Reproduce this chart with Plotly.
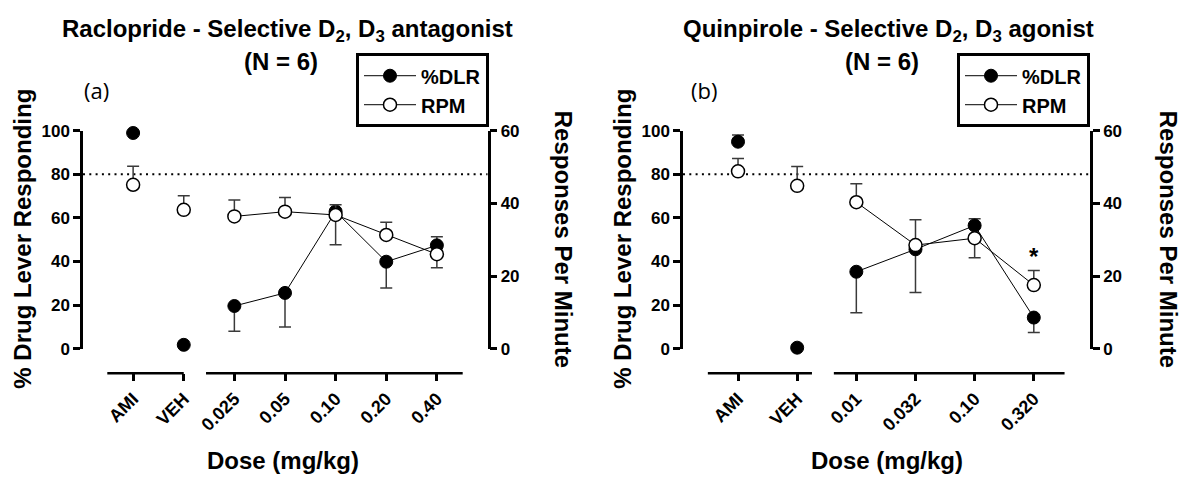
import plotly.graph_objects as go

# ---------------- Panel (a): Raclopride ----------------
a_labels = ["AMI", "VEH", "0.025", "0.05", "0.10", "0.20", "0.40"]
a_ctrl_dlr = [98.9, 1.8]
a_ctrl_rpm = [45.1, 38.2]
a_ctrl_rpm_up = [5.1, 3.9]
a_dose_dlr = [19.6, 25.6, 62.9, 39.9, 47.4]
a_dose_dlr_up = [0, 0, 0, 0, 3.9]
a_dose_dlr_dn = [11.6, 15.6, 15.2, 12.0, 0]
a_dose_rpm = [36.4, 37.7, 36.8, 31.3, 26.0]
a_dose_rpm_up = [4.5, 3.9, 2.8, 3.5, 0]
a_dose_rpm_dn = [0, 0, 0, 0, 3.7]

# ---------------- Panel (b): Quinpirole ----------------
b_labels = ["AMI", "VEH", "0.01", "0.032", "0.10", "0.320"]
b_ctrl_dlr = [94.9, 0.5]
b_ctrl_dlr_up = [3.1, 0]
b_ctrl_rpm = [48.8, 44.8]
b_ctrl_rpm_up = [3.5, 5.3]
b_dose_dlr = [35.3, 45.6, 56.5, 14.3]
b_dose_dlr_up = [0, 0, 3.1, 0]
b_dose_dlr_dn = [18.8, 19.8, 0, 6.9]
b_dose_rpm = [40.3, 28.5, 30.4, 17.5]
b_dose_rpm_up = [5.1, 7.0, 0, 4.0]
b_dose_rpm_dn = [0, 0, 5.4, 0]

left_ticks = [0, 20, 40, 60, 80, 100]
right_ticks = [0, 20, 40, 60]
criterion = 80

W, H = 1183, 489
FONT = "Arial, Liberation Sans, sans-serif"
ERRC = "#3a3a3a"


def err(up, dn=None):
    return dict(type="data", symmetric=False, array=up,
                arrayminus=dn if dn is not None else [0] * len(up),
                color=ERRC, thickness=1.5, width=6)


filled = dict(symbol="circle", size=13, color="black", line=dict(color="black", width=1))
opened = dict(symbol="circle", size=13, color="white", line=dict(color="black", width=1.5))

fig = go.Figure()


def add_panel(labels, ctrl_dlr, ctrl_dlr_up, ctrl_rpm, ctrl_rpm_up,
              dose_dlr, dose_dlr_up, dose_dlr_dn,
              dose_rpm, dose_rpm_up, dose_rpm_dn, xa, ya, ya2, leg):
    pos = list(range(len(labels)))
    cx, dx = pos[:2], pos[2:]
    fig.add_trace(go.Scatter(x=cx, y=ctrl_dlr, mode="markers", marker=filled,
                             error_y=err(ctrl_dlr_up), showlegend=False,
                             xaxis=xa, yaxis=ya, cliponaxis=False))
    fig.add_trace(go.Scatter(x=dx, y=dose_dlr, mode="lines+markers", marker=filled,
                             line=dict(color="black", width=1),
                             error_y=err(dose_dlr_up, dose_dlr_dn), name="%DLR",
                             legend=leg, xaxis=xa, yaxis=ya, cliponaxis=False))
    fig.add_trace(go.Scatter(x=cx, y=ctrl_rpm, mode="markers", marker=opened,
                             error_y=err(ctrl_rpm_up), showlegend=False,
                             xaxis=xa, yaxis=ya2, cliponaxis=False))
    fig.add_trace(go.Scatter(x=dx, y=dose_rpm, mode="lines+markers", marker=opened,
                             line=dict(color="black", width=1),
                             error_y=err(dose_rpm_up, dose_rpm_dn), name="RPM",
                             legend=leg, xaxis=xa, yaxis=ya2, cliponaxis=False))


add_panel(a_labels, a_ctrl_dlr, [0, 0], a_ctrl_rpm, a_ctrl_rpm_up,
          a_dose_dlr, a_dose_dlr_up, a_dose_dlr_dn,
          a_dose_rpm, a_dose_rpm_up, a_dose_rpm_dn, "x", "y", "y2", "legend")
add_panel(b_labels, b_ctrl_dlr, b_ctrl_dlr_up, b_ctrl_rpm, b_ctrl_rpm_up,
          b_dose_dlr, b_dose_dlr_up, b_dose_dlr_dn,
          b_dose_rpm, b_dose_rpm_up, b_dose_rpm_dn, "x2", "y3", "y4", "legend2")

ydom = [(H - 353.5) / H, (H - 126.5) / H]
xpos = (H - 379) / H
ytickfont = dict(family=FONT, size=17, color="black", weight="bold")
xtickfont = dict(family=FONT, size=18, color="black", weight="bold")

xcommon = dict(anchor="free", position=xpos, showline=False, showgrid=False, zeroline=False,
               ticks="outside", ticklen=7, tickwidth=2.5, tickcolor="black",
               tickangle=-45, tickfont=xtickfont)
ycommon = dict(domain=ydom, showline=True, linewidth=2.5, linecolor="black", showgrid=False,
               zeroline=False, ticks="outside", ticklen=7, tickwidth=2.5, tickcolor="black",
               tickfont=ytickfont)

fig.update_layout(
    width=W, height=H, margin=dict(l=0, r=0, t=0, b=0),
    paper_bgcolor="white", plot_bgcolor="rgba(0,0,0,0)",
    font=dict(family=FONT, color="black"),
    xaxis=dict(domain=[83 / W, 487.5 / W], range=[-0.99, 7.0],
               tickvals=list(range(len(a_labels))), ticktext=a_labels, **xcommon),
    yaxis=dict(anchor="x", range=[0, 100], tickvals=left_ticks, **ycommon),
    yaxis2=dict(anchor="x", overlaying="y", side="right", range=[0, 60],
                tickvals=right_ticks, **ycommon),
    xaxis2=dict(domain=[683 / W, 1090 / W], range=[-0.93, 5.95],
                tickvals=list(range(len(b_labels))), ticktext=b_labels, **xcommon),
    yaxis3=dict(anchor="x2", range=[0, 100], tickvals=left_ticks, **ycommon),
    yaxis4=dict(anchor="x2", overlaying="y3", side="right", range=[0, 60],
                tickvals=right_ticks, **ycommon),
)

legstyle = dict(yanchor="top", y=(H - 46) / H, xanchor="right", bordercolor="black",
                borderwidth=3, bgcolor="white",
                font=dict(family=FONT, size=20, color="black", weight="bold"),
                itemwidth=52, tracegroupgap=0)
fig.update_layout(legend=dict(x=489 / W, **legstyle),
                  legend2=dict(x=1090 / W, **legstyle))

shapes = []
# broken x axis lines
for xa, segs in (("x", [(-0.51, 1.0), (1.44, 6.51)]), ("x2", [(-0.51, 1.25), (1.62, 5.52)])):
    for s0, s1 in segs:
        shapes.append(dict(type="line", xref=xa, yref="paper", x0=s0, x1=s1, y0=xpos, y1=xpos,
                           line=dict(color="black", width=2.5)))
# criterion dotted line
for xa, ya in (("x", "y"), ("x2", "y3")):
    shapes.append(dict(type="line", xref=xa + " domain", yref=ya, x0=0, x1=1,
                       y0=criterion, y1=criterion, layer="below",
                       line=dict(color="black", width=2, dash="2px,4.3px")))
fig.update_layout(shapes=shapes)

ann = []
bold = dict(family=FONT, color="black", weight="bold")
titles = [
    (287, "Raclopride - Selective D<sub>2</sub>, D<sub>3</sub> antagonist"),
    (888, "Quinpirole - Selective D<sub>2</sub>, D<sub>3</sub> agonist"),
]
for cx, t in titles:
    ann.append(dict(x=cx / W, y=(H - 22) / H, xref="paper", yref="paper", text=t,
                    showarrow=False, font=dict(size=24, **bold), xanchor="center", yanchor="middle"))
    ann.append(dict(x=(cx - 6) / W, y=(H - 55) / H, xref="paper", yref="paper", text="(N = 6)",
                    showarrow=False, font=dict(size=24, **bold), xanchor="center", yanchor="middle"))
for cx, t in ((96, "(a)"), (704, "(b)")):
    ann.append(dict(x=cx / W, y=(H - 84) / H, xref="paper", yref="paper", text=t,
                    showarrow=False, font=dict(size=22, family="Open Sans, sans-serif", color="black"),
                    xanchor="center", yanchor="middle"))
for cx in (23, 623):
    ann.append(dict(x=cx / W, y=(H - 239) / H, xref="paper", yref="paper",
                    text="% Drug Lever Responding", textangle=-90, showarrow=False,
                    font=dict(size=24, **bold), xanchor="center", yanchor="middle"))
for cx in (563, 1168):
    ann.append(dict(x=cx / W, y=(H - 239) / H, xref="paper", yref="paper",
                    text="Responses Per Minute", textangle=90, showarrow=False,
                    font=dict(size=24, **bold), xanchor="center", yanchor="middle"))
for cx in (283, 887):
    ann.append(dict(x=cx / W, y=(H - 470) / H, xref="paper", yref="paper",
                    text="Dose (mg/kg)", showarrow=False,
                    font=dict(size=24, **bold), xanchor="center", yanchor="middle"))
# significance marker above 0.320 RPM
ann.append(dict(x=len(b_labels) - 1, y=b_dose_rpm[-1] + b_dose_rpm_up[-1], xref="x2", yref="y4",
                text="*", showarrow=False, yshift=14, font=dict(size=24, **bold),
                xanchor="center", yanchor="middle"))
fig.update_layout(annotations=ann)

fig.write_html("out.html", config={"displayModeBar": False})
